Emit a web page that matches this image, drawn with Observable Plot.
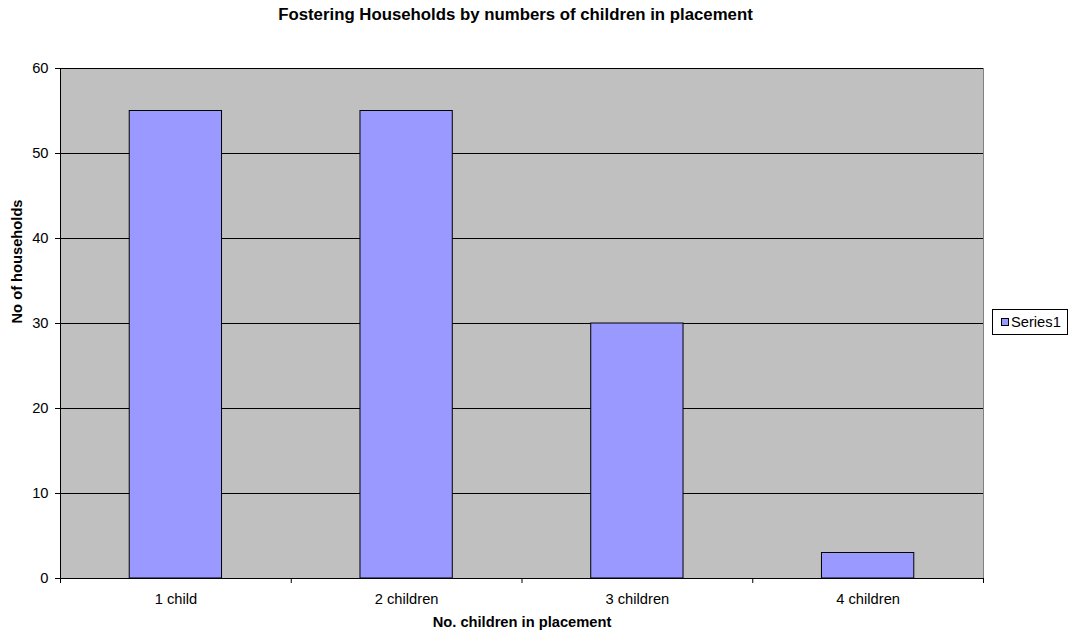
<!DOCTYPE html>
<html>
<head>
<meta charset="utf-8">
<script src="https://cdn.jsdelivr.net/npm/d3@7"></script>
<script src="https://cdn.jsdelivr.net/npm/@observablehq/plot@0.6"></script>
<style>
  html, body { margin: 0; padding: 0; background: #fff; }
  body { width: 1069px; height: 635px; position: relative; overflow: hidden;
         font-family: "Liberation Sans", Arial, sans-serif; }
  #chart { position: absolute; left: 0; top: 0; }
  #title { position: absolute; left: 0; width: 1031px; top: 5px; text-align: center;
           font-size: 16.8px; font-weight: bold; color: #000; white-space: nowrap; }
  #legend { position: absolute; left: 992px; top: 309px; width: 76px; height: 26px;
            border: 1px solid #000; background: #fff; box-sizing: border-box;
            font-size: 14.7px; display: flex; align-items: center; padding-left: 8px; }
  #legend .sw { width: 6px; height: 6px; background: #9999ff; border: 1px solid #000;
                margin-right: 2px; }
</style>
</head>
<body>
<div id="chart"></div>
<div id="title">Fostering Households by numbers of children in placement</div>
<div id="legend"><span class="sw"></span><span>Series1</span></div>
<script>
// Households grouped by how many children are in placement
const categories = ["1 child", "2 children", "3 children", "4 children"];
const households = [55, 55, 30, 3];
const seriesName = "Series1";
const yTicks = [0, 10, 20, 30, 40, 50, 60];

const barWidth = 0.4; // share of each category slot taken by its bar

const rows = categories.map((c, i) => ({
  category: c,
  x1: i + (1 - barWidth) / 2,
  x2: i + (1 + barWidth) / 2,
  value: households[i],
  series: seriesName
}));

const chart = Plot.plot({
  width: 1069,
  height: 635,
  marginLeft: 60,
  marginRight: 86,
  marginTop: 68,
  marginBottom: 57,
  style: { fontFamily: '"Liberation Sans", Arial, sans-serif', fontSize: "14.7px", background: "transparent" },
  x: { type: "linear", domain: [0, categories.length] },
  y: { domain: [0, 60] },
  marks: [
    Plot.frame({ fill: "#c0c0c0", stroke: "#808080" }),
    Plot.ruleY(yTicks, { stroke: "#000", strokeWidth: 1 }),
    Plot.rectY(rows, { x1: "x1", x2: "x2", y: "value", fill: "#9999ff", stroke: "#000", strokeWidth: 1 }),
    Plot.frame({ anchor: "left", stroke: "#000" }),
    Plot.ruleY([0], { stroke: "#000" }),
    Plot.axisY({ ticks: yTicks, tickSize: 5, tickPadding: 7, label: null, fontSize: 14.7 }),
    Plot.axisX({ ticks: d3.range(categories.length + 1), tickSize: 5, tickFormat: () => "", label: null }),
    Plot.axisX({ ticks: categories.map((c, i) => i + 0.5), tickSize: 0, tickPadding: 15,
                 tickFormat: v => categories[Math.floor(v)], label: null, fontSize: 14.7 }),
    Plot.text(["No. children in placement"], { frameAnchor: "bottom", dy: 48, fontWeight: "bold", fontSize: 14.7 }),
    Plot.text(["No of households"], { frameAnchor: "left", rotate: -90, dx: -43, fontWeight: "bold", fontSize: 14.7 })
  ]
});
document.getElementById("chart").appendChild(chart);
</script>
</body>
</html>
